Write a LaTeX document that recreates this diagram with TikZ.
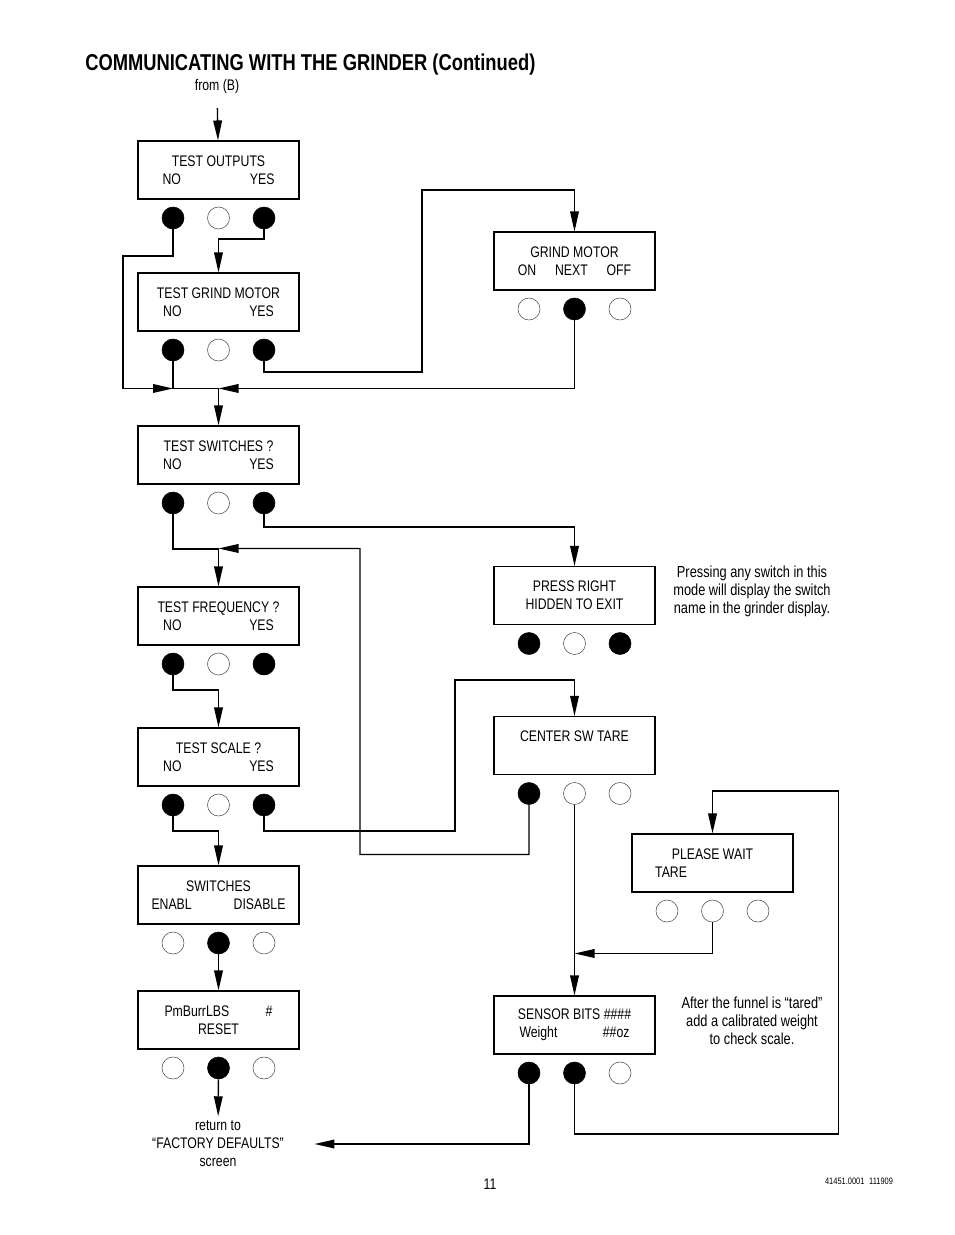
\documentclass[tikz,border=0pt]{standalone}
\usepackage{fontspec}
\setmainfont{Liberation Sans}[FakeStretch=0.8]
\usepackage{tikz}
\usetikzlibrary{calc,arrows.meta}

% three keys under a display box
\newcommand{\keyrow}[4]{%
  \node at ($(#1)+(-45.5,48)$) (#1-1) [#2] {};
  \node at ($(#1)+(0,48)$) (#1-2) [#3] {};
  \node at ($(#1)+(45.5,48)$) (#1-3) [#4] {};}

\begin{document}
\begin{tikzpicture}[x=0.75pt,y=-0.75pt,
        every node/.style={font=\fontsize{11.5}{13.5}\selectfont},
        disp/.style={draw=black, line width=0.8pt, minimum width=120.75pt,
           minimum height=43.5pt, align=center, inner sep=0pt},
        keyon/.style={circle, draw=black, fill=black, minimum size=16.5pt, inner sep=0pt},
        keyoff/.style={circle, draw=black!70, line width=0.4pt, fill=white, minimum size=16.5pt, inner sep=0pt},
        line/.style={draw=black, line width=1pt},
        arr/.style={line, -{Triangle[length=15pt,width=6.5pt]}},
     ]
     \useasboundingbox (0,0) rectangle (954,1235);

     \node at (85,65) (title) [anchor=west, inner sep=0pt, font=\bfseries\fontsize{17.2}{20}\selectfont] {COMMUNICATING WITH THE GRINDER (Continued)};
     \node at (217,87) (fromB) {from (B)};

     % left column
     \node at (218.5,170) (tout) [disp] {TEST OUTPUTS\\\makebox[84pt]{NO\hfill YES}};
     \node at (218.5,302) (tgm) [disp] {TEST GRIND MOTOR\\\makebox[83pt]{NO\hfill YES}};
     \node at (218.5,455) (ts) [disp] {TEST SWITCHES ?\\\makebox[83pt]{NO\hfill YES}};
     \node at (218.5,616) (tf) [disp] {TEST FREQUENCY ?\\\makebox[83pt]{NO\hfill YES}};
     \node at (218.5,757) (tsc) [disp] {TEST SCALE ?\\\makebox[83pt]{NO\hfill YES}};
     \node at (218.5,895) (sw) [disp] {SWITCHES\\\makebox[100.5pt]{ENABL\hfill DISABLE}};
     \node at (218.5,1020) (pmb) [disp] {\makebox[81pt]{PmBurrLBS\hfill\#}\\RESET};
     \node at (218,1144) (ret) [align=center] {return to\\“FACTORY DEFAULTS”\\screen};

     % right column
     \node at (574.5,261) (gm) [disp] {GRIND MOTOR\\\makebox[85pt]{ON\hfill NEXT\hfill OFF}};
     \node at (574.5,595.5) (pr) [disp] {PRESS RIGHT\\HIDDEN TO EXIT};
     \node at (574.5,745.5) (csw) [disp] {CENTER SW TARE\\~};
     \node at (712.5,863) (pw) [disp] {PLEASE WAIT\\\makebox[86pt]{TARE\hfill}};
     \node at (574.5,1025) (sb) [disp] {SENSOR BITS \#\#\#\#\\\makebox[82.5pt]{Weight\hfill\#\#oz}};

     \keyrow{tout}{keyon}{keyoff}{keyon}
     \keyrow{tgm}{keyon}{keyoff}{keyon}
     \keyrow{ts}{keyon}{keyoff}{keyon}
     \keyrow{tf}{keyon}{keyoff}{keyon}
     \keyrow{tsc}{keyon}{keyoff}{keyon}
     \keyrow{sw}{keyoff}{keyon}{keyoff}
     \keyrow{pmb}{keyoff}{keyon}{keyoff}
     \keyrow{gm}{keyoff}{keyon}{keyoff}
     \keyrow{pr}{keyon}{keyoff}{keyon}
     \keyrow{csw}{keyon}{keyoff}{keyoff}
     \keyrow{pw}{keyoff}{keyoff}{keyoff}
     \keyrow{sb}{keyon}{keyon}{keyoff}

     \node at (752,591) (note1) [align=center, font=\fontsize{12}{13.5}\selectfont] {Pressing any switch in this\\mode will display the switch\\name in the grinder display.};
     \node at (752,1021) (note2) [align=center, font=\fontsize{12}{13.5}\selectfont] {After the funnel is “tared”\\add a calibrated weight\\to check scale.};
     \node at (490,1184) (page) {11};
     \node at (859,1181) (code) [font=\fontsize{7}{8}\selectfont] {41451.0001\enspace 111909};

     \coordinate (jA) at ($(ts.north)+(0,-37)$);
     \coordinate (jB) at ($(tf.north)+(0,-38)$);
     \coordinate (jC) at ($(sb.north)+(0,-42)$);

     \draw[arr, shorten <=7pt] (fromB) -- (tout);
     \draw[arr] (tout-1) -- ++(0,38) -- ++(-50,0) |- (tgm-1 |- jA);
     \draw[arr] (tout-3) -- ++(0,21) -| (tgm);
     \draw[arr] (tgm-1) |- (jA) -- (ts);
     \draw[arr, line width=0.8pt] (tgm-3) -- ++(0,22) -| ++(158,-182) -| (gm);
     \draw[arr] (gm-2) |- (jA);
     \draw[arr] (ts-1) -- ++(0,46) -| (tf);
     \draw[arr] (ts-3) -- ++(0,24) -| (pr);
     \draw[arr] (csw-1) -- ++(0,61) -| ++(-169,-306) -- (jB);
     \draw[arr] (tf-1) -- ++(0,26) -| (tsc);
     \draw[arr] (tsc-1) -- ++(0,26) -| (sw);
     \draw[arr, line width=0.8pt] (tsc-3) -- ++(0,26) -| ++(191,-151) -| (csw);
     \draw[arr] (sw-2) -- (pmb);
     \draw[arr] (pmb-2) -- (ret);
     \draw[arr] (csw-2) -- (sb);
     \draw[arr] (pw-2) |- (jC);
     \draw[arr] (sb-1) |- ($(ret.east)+(26,0)$);
     \draw[arr] (sb-2) -- ++(0,61) -| ++(264,-343) -| (pw);
\end{tikzpicture}
\end{document}
